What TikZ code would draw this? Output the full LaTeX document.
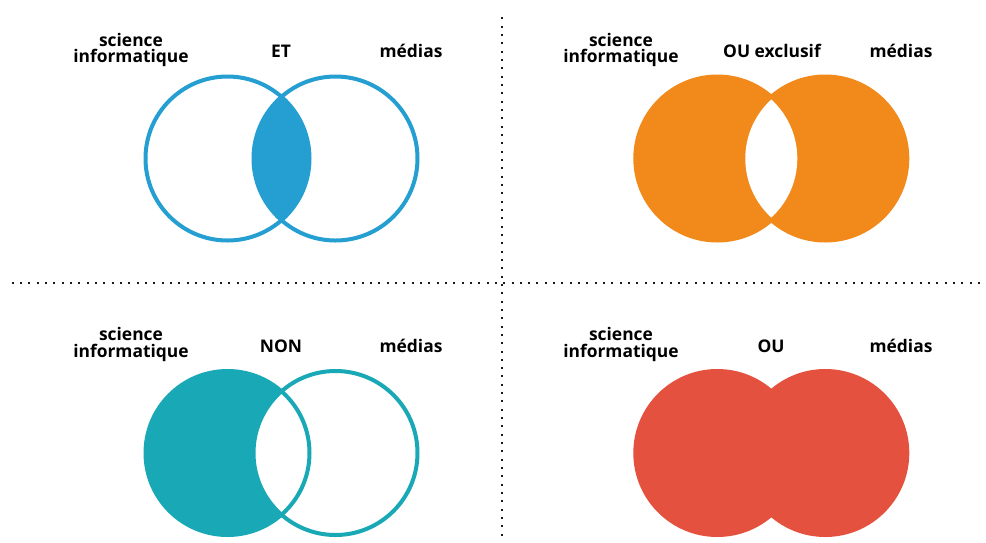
\documentclass[tikz,border=0pt]{standalone}
\usepackage{fontspec}
\setmainfont{Open Sans}
\definecolor{cBlue}{HTML}{259ED1}
\definecolor{cOrange}{HTML}{F18A1B}
\definecolor{cTeal}{HTML}{19A8B5}
\definecolor{cRed}{HTML}{E5513F}
\definecolor{cDot}{HTML}{1A1A1A}
\begin{document}
\begin{tikzpicture}[x=1pt,y=-1pt,
  lbl/.style={font=\fontsize{17.4}{16.7}\selectfont\bfseries, inner sep=0pt, align=center, anchor=base},
  dotline/.style={cDot, line width=2pt, dash pattern=on 2pt off 6.33pt},
  ring/.style={line width=4pt}]
\useasboundingbox (0,0) rectangle (986,542);
% dividers
\coordinate (vtop) at (502.3,17.3);
\coordinate (vbot) at (502.3,542);
\coordinate (hl) at (11.7,283.3);
\coordinate (hr) at (986,283.3);
\draw[dotline] (vtop) -- (vbot);
\draw[dotline] (hl) -- (hr);
% centres
\coordinate (L1) at (227.5,158.5); \coordinate (R1) at (335.5,158.5);
\coordinate (L2) at (717.3,158.5); \coordinate (R2) at (825.3,158.5);
\coordinate (L3) at (227.5,453);   \coordinate (R3) at (335.5,453);
\coordinate (L4) at (717.3,453);   \coordinate (R4) at (825.3,453);
% ET
\begin{scope}
  \clip (L1) circle[radius=82pt];
  \fill[cBlue] (R1) circle[radius=82pt];
\end{scope}
\draw[cBlue, ring] (L1) circle[radius=82pt] (R1) circle[radius=82pt];
% OU exclusif
\fill[cOrange] (L2) circle[radius=84pt] (R2) circle[radius=84pt];
\begin{scope}
  \clip (L2) circle[radius=80pt];
  \fill[white] (R2) circle[radius=80pt];
\end{scope}
% NON
\fill[cTeal] (L3) circle[radius=82pt];
\begin{scope}
  \clip (L3) circle[radius=82pt];
  \fill[white] (R3) circle[radius=82pt];
\end{scope}
\draw[cTeal, ring] (L3) circle[radius=82pt] (R3) circle[radius=82pt];
% OU
\fill[cRed] (L4) circle[radius=84pt] (R4) circle[radius=84pt];
% labels
\node[lbl] (si1) at (131,62.7) {science\\informatique};
\node[lbl] (et) at (281,57.5) {ET};
\node[lbl] (me1) at (411,57.5) {médias};
\node[lbl] (si2) at (621,62.7) {science\\informatique};
\node[lbl] (ox) at (772,57.5) {OU exclusif};
\node[lbl] (me2) at (901,57.5) {médias};
\node[lbl] (si3) at (131,357.2) {science\\informatique};
\node[lbl] (non) at (281,352) {NON};
\node[lbl] (me3) at (411,352) {médias};
\node[lbl] (si4) at (621,357.2) {science\\informatique};
\node[lbl] (ou) at (771,352) {OU};
\node[lbl] (me4) at (901,352) {médias};
\end{tikzpicture}
\end{document}
